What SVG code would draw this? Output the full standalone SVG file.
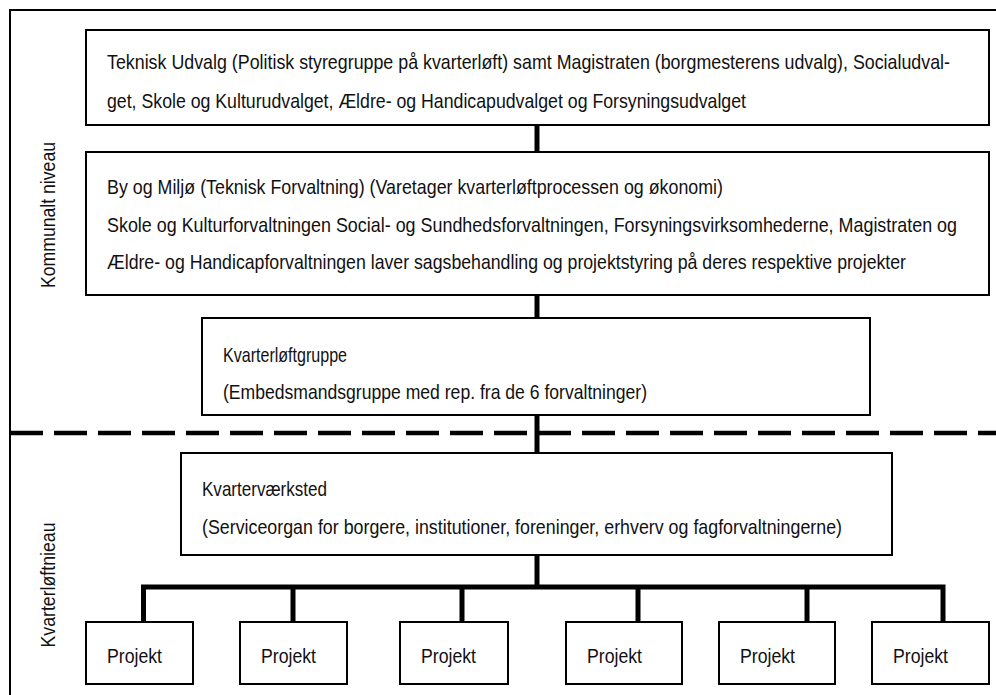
<svg xmlns="http://www.w3.org/2000/svg" width="996" height="695" viewBox="0 0 996 695">
  <style>
    .box { fill: #fff; stroke: #000; stroke-width: 2; }
    .t { font-family: "Liberation Sans Narrow", "Arial Narrow", "Liberation Sans", sans-serif; font-size: 21px; fill: #111; }
    .wire { stroke: #000; stroke-width: 5; fill: none; }
    .frame { stroke: #000; stroke-width: 2; fill: none; }
    .split { stroke: #000; stroke-width: 4.5; stroke-dasharray: 33 11; fill: none; }
  </style>
  <rect width="996" height="695" fill="#fff"/>

  <!-- outer frame (open to the right and bottom) -->
  <path class="frame" d="M10 695 V10 H996"/>
  <!-- level separator -->
  <path class="split" d="M10 433 H996"/>

  <!-- level labels -->
  <text class="t" transform="translate(55 215) rotate(-90)" text-anchor="middle" textLength="146" lengthAdjust="spacingAndGlyphs">Kommunalt niveau</text>
  <text class="t" transform="translate(55 585) rotate(-90)" text-anchor="middle" textLength="125" lengthAdjust="spacingAndGlyphs">Kvarterløftnieau</text>

  <g id="connectors">
    <path class="wire" d="M537 125 V152 M537 295 V318 M537 415 V453 M537 555 V587"/>
    <path class="wire" d="M143.5 622 V587 H943 V622 M293 587 V622 M462 587 V622 M638 587 V622 M807 587 V622"/>
  </g>

  <g id="udvalg">
    <rect class="box" x="86" y="30" width="903" height="95"/>
    <text class="t" x="107" y="69" textLength="843" lengthAdjust="spacingAndGlyphs">Teknisk Udvalg (Politisk styregruppe på kvarterløft) samt Magistraten (borgmesterens udvalg), Socialudval-</text>
    <text class="t" x="107" y="108" textLength="639" lengthAdjust="spacingAndGlyphs">get, Skole og Kulturudvalget, Ældre- og Handicapudvalget og Forsyningsudvalget</text>
  </g>

  <g id="forvaltning">
    <rect class="box" x="86" y="152" width="903" height="143"/>
    <text class="t" x="107" y="194" textLength="616" lengthAdjust="spacingAndGlyphs">By og Miljø (Teknisk Forvaltning) (Varetager kvarterløftprocessen og økonomi)</text>
    <text class="t" x="107" y="232" textLength="850" lengthAdjust="spacingAndGlyphs">Skole og Kulturforvaltningen Social- og Sundhedsforvaltningen, Forsyningsvirksomhederne, Magistraten og</text>
    <text class="t" x="107" y="269" textLength="799" lengthAdjust="spacingAndGlyphs">Ældre- og Handicapforvaltningen laver sagsbehandling og projektstyring på deres respektive projekter</text>
  </g>

  <g id="kvarterloeftgruppe">
    <rect class="box" x="202" y="318" width="668" height="97"/>
    <text class="t" x="223" y="362" textLength="124" lengthAdjust="spacingAndGlyphs">Kvarterløftgruppe</text>
    <text class="t" x="223" y="399" textLength="424" lengthAdjust="spacingAndGlyphs">(Embedsmandsgruppe med rep. fra de 6 forvaltninger)</text>
  </g>

  <g id="kvartervaerksted">
    <rect class="box" x="181" y="453" width="711" height="102"/>
    <text class="t" x="202" y="496" textLength="125" lengthAdjust="spacingAndGlyphs">Kvarterværksted</text>
    <text class="t" x="202" y="534" textLength="640" lengthAdjust="spacingAndGlyphs">(Serviceorgan for borgere, institutioner, foreninger, erhverv og fagforvaltningerne)</text>
  </g>

  <g id="projekt1"><rect class="box" x="86" y="622" width="107" height="62"/><text class="t" x="107" y="663" textLength="55" lengthAdjust="spacingAndGlyphs">Projekt</text></g>
  <g id="projekt2"><rect class="box" x="240" y="622" width="107" height="62"/><text class="t" x="261" y="663" textLength="55" lengthAdjust="spacingAndGlyphs">Projekt</text></g>
  <g id="projekt3"><rect class="box" x="400" y="622" width="108" height="62"/><text class="t" x="421" y="663" textLength="55" lengthAdjust="spacingAndGlyphs">Projekt</text></g>
  <g id="projekt4"><rect class="box" x="566" y="622" width="116" height="62"/><text class="t" x="587" y="663" textLength="55" lengthAdjust="spacingAndGlyphs">Projekt</text></g>
  <g id="projekt5"><rect class="box" x="719" y="622" width="116" height="62"/><text class="t" x="740" y="663" textLength="55" lengthAdjust="spacingAndGlyphs">Projekt</text></g>
  <g id="projekt6"><rect class="box" x="872" y="622" width="117" height="62"/><text class="t" x="893" y="663" textLength="55" lengthAdjust="spacingAndGlyphs">Projekt</text></g>
</svg>
